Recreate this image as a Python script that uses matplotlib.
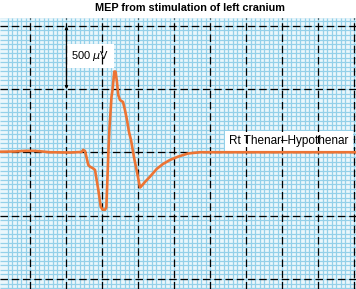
import matplotlib.pyplot as plt
import numpy as np

plt.rcParams['font.family'] = ['Liberation Sans', 'DejaVu Sans']

# MEP trace (time in ms, amplitude in microvolts)
t_ms = [-4.24, -2.15, -0.76, 0.62, 2.71, 5.49, 7.08, 7.33, 7.57, 8.03,
        8.26, 8.68, 8.96, 9.42, 9.75, 10.0, 10.35, 10.53, 10.69, 10.83,
        10.97, 11.25, 11.39, 11.64, 11.81, 12.01, 12.19, 12.43, 12.85, 13.12,
        13.40, 13.68, 13.96, 14.37, 14.79, 15.21, 15.42, 15.90, 16.60, 17.53,
        18.40, 19.37, 20.49, 21.87, 23.54, 45.21]
amp_uv = [6, 8, 13, 13, 2, 0, 4, 21, 12, -99,
          -112, -125, -138, -296, -427, -451, -453, -435, -202, 20,
          194, 439, 494, 640, 640, 557, 454, 415, 399, 336,
          257, 162, 99, -36, -154, -277, -265, -233, -191, -130,
          -91, -59, -33, -8, 2, 2]

ms_per_div = 5
uv_per_div = 500
title = "MEP from stimulation of left cranium"
scale_label = "500 $\\mu$V"
trace_label = "Rt Thenar\u2013Hypothenar"

fig = plt.figure(figsize=(3.56, 2.89), dpi=100)
ax = fig.add_axes([0, 0, 1, 1 - 17.5 / 289])
ax.set_facecolor('#ebf7fc')
x0, x1 = -4.236, 45.21
y0, y1 = -1079, 1067
ax.set_xlim(x0, x1)
ax.set_ylim(y0, y1)

# fine chart-paper grid
minor_x = np.arange(-5 * 0.625, 46, ms_per_div / 8)
minor_y = np.arange(-uv_per_div * 31 / 14, 1100, uv_per_div / 14)
ax.vlines(minor_x, y0, y1, color='#94d0e9', lw=0.9, zorder=0.5)
ax.hlines(minor_y, x0, x1, color='#94d0e9', lw=0.9, zorder=0.5)

# dashed major divisions
major_x = np.arange(0, 46, ms_per_div)
major_y = np.arange(-2 * uv_per_div, 2 * uv_per_div + 1, uv_per_div)
ax.vlines(major_x, y0, y1, color='black', lw=0.9, linestyles=(0, (6, 3)), zorder=3)
ax.hlines(major_y, x0, x1, color='black', lw=0.9, linestyles=(0, (6, 3)), zorder=3)

# calibration bar
ax.annotate('', xy=(ms_per_div, 2 * uv_per_div), xytext=(ms_per_div, uv_per_div),
            arrowprops=dict(arrowstyle='<|-|>', color='black', lw=0.9,
                            mutation_scale=4, shrinkA=0, shrinkB=0), zorder=3)

ax.text(8.3, 760, scale_label, fontsize=8, ha='center', va='center', zorder=2,
        bbox=dict(facecolor='white', edgecolor='none', pad=3.5))
ax.text(35.9, 87, trace_label, fontsize=8.5, ha='center', va='center', zorder=2,
        bbox=dict(facecolor='white', edgecolor='none', pad=3))

ax.plot(t_ms, amp_uv, color='#ec7434', lw=1.9, zorder=4, solid_joinstyle='round')

ax.set_xticks([])
ax.set_yticks([])
for s in ax.spines.values():
    s.set_visible(False)

fig.text(189.5 / 356, 1 - 8 / 289, title, fontsize=7.8, fontweight='bold',
         ha='center', va='center')

fig.savefig('out.png', dpi=100)
